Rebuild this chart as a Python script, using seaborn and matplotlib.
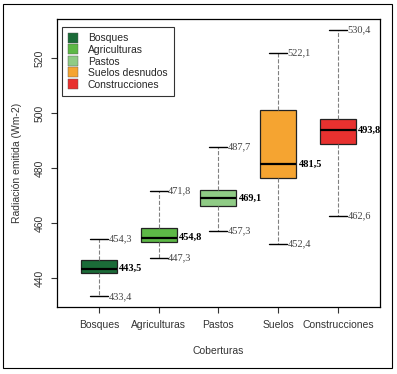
"""
Boxplot radiacion emitida por cobertura
"""
import pandas as pd
import seaborn as sns
import matplotlib.pyplot as plt
from matplotlib.lines import Line2D
from matplotlib.patches import Rectangle

coberturas = ['Bosques', 'Agriculturas', 'Pastos', 'Suelos', 'Construcciones']
leyenda = ['Bosques', 'Agriculturas', 'Pastos', 'Suelos desnudos', 'Construcciones']
minimos = [433.4, 447.3, 457.3, 452.4, 462.6]
q1 = [441.8, 453.2, 466.3, 476.4, 488.7]
medianas = [443.5, 454.8, 469.1, 481.5, 493.8]
q3 = [446.5, 458.1, 472.0, 501.1, 497.8]
maximos = [454.3, 471.8, 487.7, 522.1, 530.4]
colores = ['#1b6b38', '#5db846', '#8fcb85', '#f5a431', '#e8312f']

def fmt(v):
    return f'{v:.1f}'.replace('.', ',')

def main():
    # five values per group -> quartiles fall exactly on them
    rows = []
    for i, cob in enumerate(coberturas):
        for v in [minimos[i], q1[i], medianas[i], q3[i], maximos[i]]:
            rows.append({'cobertura': cob, 'valor': v})
    df = pd.DataFrame(rows)

    sns.set_style('white')
    plt.rcParams['font.family'] = ['Liberation Sans', 'DejaVu Sans']
    fig = plt.figure(figsize=(3.97, 3.74), dpi=100)
    ax = fig.add_axes([0.1436, 0.179, 0.813, 0.770])

    sns.boxplot(data=df, x='cobertura', y='valor', hue='cobertura', palette=colores,
                order=coberturas, hue_order=coberturas, width=0.6, whis=(0, 100),
                legend=False, saturation=1, linecolor='#222222', linewidth=0.9,
                whiskerprops={'linestyle': '--', 'color': '#808080', 'linewidth': 0.8},
                capprops={'color': 'black', 'linewidth': 1.0},
                medianprops={'color': 'black', 'linewidth': 1.6},
                ax=ax)

    for i in range(len(coberturas)):
        ax.text(i + 0.16, maximos[i], fmt(maximos[i]), ha='left', va='center',
                fontsize=7.5, color='#444444', family='Liberation Serif')
        ax.text(i + 0.16, minimos[i], fmt(minimos[i]), ha='left', va='center',
                fontsize=7.5, color='#444444', family='Liberation Serif')
        ax.text(i + 0.34, medianas[i], fmt(medianas[i]), ha='left', va='center',
                fontsize=7.5, color='black', fontweight='bold', family='Liberation Serif')

    ax.set_xlim(-0.7, 4.7)
    ax.set_ylim(429.5, 534.3)
    ax.set_yticks([440, 460, 480, 500, 520])
    ax.tick_params(axis='both', direction='out', length=4, width=0.8, color='#333333',
                   labelsize=7.5, labelcolor='#333333', bottom=True, left=True, pad=5)
    plt.setp(ax.get_yticklabels(), rotation=90, va='center')
    for s in ax.spines.values():
        s.set_color('black')
        s.set_linewidth(0.9)
    ax.set_xlabel('Coberturas', fontsize=7.5, color='#333333', labelpad=12)
    ax.set_ylabel('Radiación emitida (Wm-2)', fontsize=7.5, color='#333333', labelpad=9)

    handles = [Line2D([], [], marker='s', linestyle='none', markersize=6.5,
                      markerfacecolor=c, markeredgecolor='#555555', markeredgewidth=0.3)
               for c in colores]
    leg = ax.legend(handles, leyenda, loc='upper left', bbox_to_anchor=(0.015, 0.972),
                    borderaxespad=0, fontsize=7.5, frameon=True, fancybox=False,
                    handlelength=1.0, handletextpad=0.9, labelspacing=0.15, borderpad=0.6)
    leg.get_frame().set_edgecolor('black')
    leg.get_frame().set_linewidth(0.8)

    fig.patches.append(Rectangle((0.008, 0.016), 0.979, 0.973, transform=fig.transFigure,
                                 fill=False, edgecolor='black', linewidth=0.8))

    fig.savefig('out.png', dpi=100)

if __name__ == "__main__":
    main()
